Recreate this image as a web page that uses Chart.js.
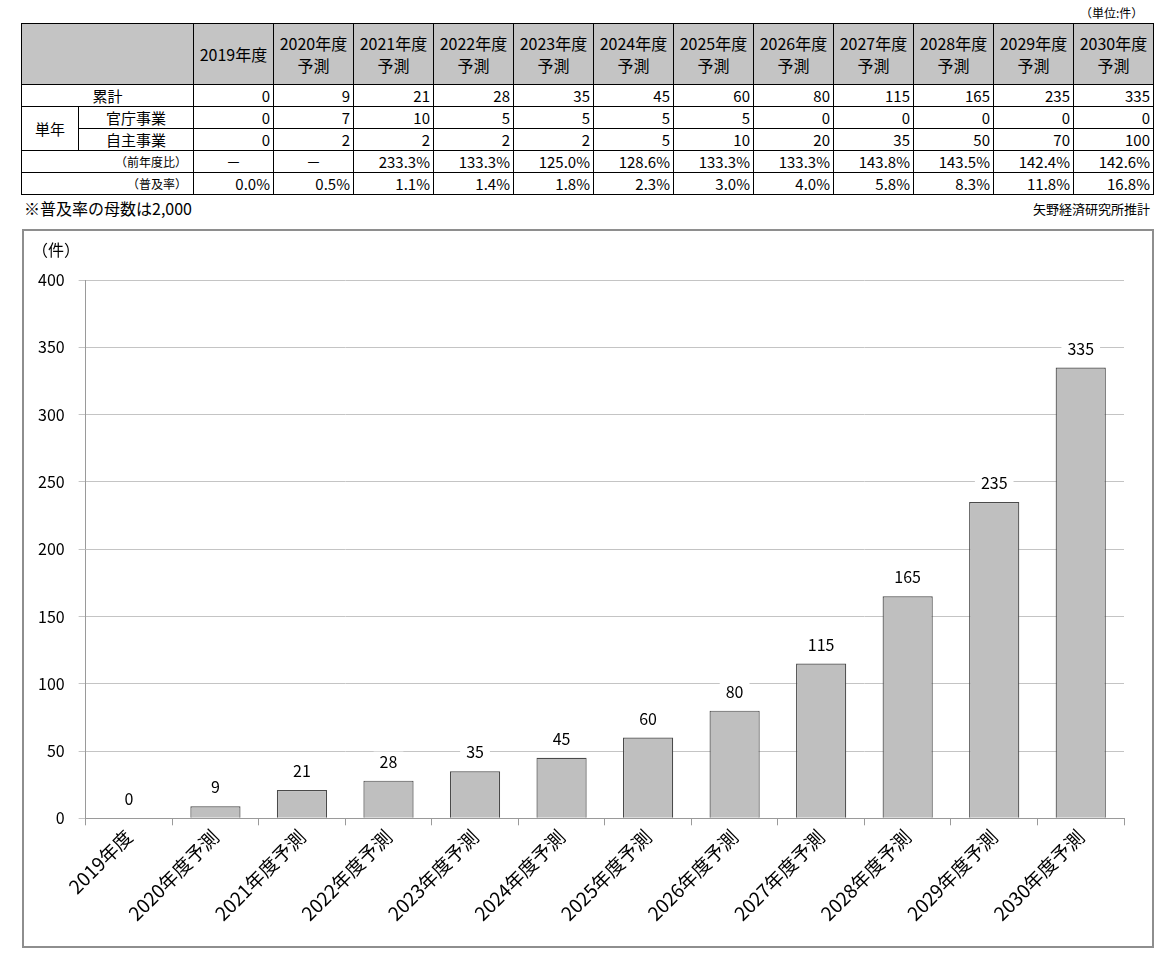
<!DOCTYPE html>
<html>
<head>
<meta charset="utf-8">
<script src="https://cdn.jsdelivr.net/npm/chart.js@4"></script>
<style>
body { margin: 0; background: #fff; font-family: "Noto Sans CJK JP", sans-serif; }
#unit { position: absolute; left: 1080px; top: 4px; font-size: 12px; }
#tbl { position: absolute; left: 21px; top: 23px; width: 1132px; table-layout: fixed; border-collapse: collapse; font-size: 15px; }
#tbl td, #tbl th { border: 1px solid #000; padding: 0 3px; height: 21px; line-height: 18px; white-space: nowrap; }
#tbl th { background: #c4c4c4; font-weight: normal; text-align: center; height: 60px; line-height: 22px; font-size: 16px; padding: 0 1px; }
#tbl td.num { text-align: right; }
#tbl td.lbl { text-align: center; }
#tbl td.sub { text-align: right; font-size: 12px; padding-right: 6px; }
#note { position: absolute; left: 24px; top: 196px; font-size: 16px; }
#src { position: absolute; right: 14px; top: 199px; font-size: 13px; }
#box { position: absolute; left: 22px; top: 229px; width: 1128px; height: 715px; border: 2px solid #8e8e8e; }
#box canvas { position: absolute; left: 0; top: 0; }
#ylab { position: absolute; left: 8px; top: 6px; font-size: 16px; }
</style>
</head>
<body>
<div id="unit">（単位:件）</div>
<table id="tbl">
  <colgroup id="cols"><col style="width:57px"><col style="width:115px"></colgroup>
  <thead><tr id="head"><th colspan="2"></th></tr></thead>
  <tbody id="body"></tbody>
</table>
<div id="note">※普及率の母数は2,000</div>
<div id="src">矢野経済研究所推計</div>
<div id="box">
  <canvas id="chart" width="1128" height="715"></canvas>
  <div id="ylab">（件）</div>
</div>
<script>
// Data
const years = ['2019年度', '2020年度予測', '2021年度予測', '2022年度予測', '2023年度予測', '2024年度予測',
    '2025年度予測', '2026年度予測', '2027年度予測', '2028年度予測', '2029年度予測', '2030年度予測'];
const cumulative = [0, 9, 21, 28, 35, 45, 60, 80, 115, 165, 235, 335];
const govProjects = [0, 7, 10, 5, 5, 5, 5, 0, 0, 0, 0, 0];
const ownProjects = [0, 2, 2, 2, 2, 5, 10, 20, 35, 50, 70, 100];
const yoyRatio = ['－', '－', '233.3%', '133.3%', '125.0%', '128.6%', '133.3%', '133.3%', '143.8%', '143.5%', '142.4%', '142.6%'];
const penetration = ['0.0%', '0.5%', '1.1%', '1.4%', '1.8%', '2.3%', '3.0%', '4.0%', '5.8%', '8.3%', '11.8%', '16.8%'];
const yTicks = [0, 50, 100, 150, 200, 250, 300, 350, 400];

// build the table
const head = document.getElementById('head');
const cols = document.getElementById('cols');
years.forEach(y => {
    const col = document.createElement('col');
    col.style.width = '80px';
    cols.appendChild(col);
    const th = document.createElement('th');
    th.innerHTML = y.replace('予測', '<br>予測');
    head.appendChild(th);
});

function addRow(cells, values, cls) {
    const tr = document.createElement('tr');
    tr.innerHTML = cells;
    values.forEach(v => {
        const td = document.createElement('td');
        td.className = cls;
        td.textContent = v;
        tr.appendChild(td);
    });
    document.getElementById('body').appendChild(tr);
}
addRow('<td colspan="2" class="lbl">累計</td>', cumulative, 'num');
addRow('<td rowspan="2" class="lbl">単年</td><td class="lbl">官庁事業</td>', govProjects, 'num');
addRow('<td class="lbl">自主事業</td>', ownProjects, 'num');
addRow('<td colspan="2" class="sub">（前年度比）</td>', yoyRatio, 'num');
addRow('<td colspan="2" class="sub">（普及率）</td>', penetration, 'num');
document.querySelectorAll('#body tr:nth-child(4) td.num').forEach((td, i) => {
    if (i < 2) td.style.textAlign = 'center';
});

// value labels above the bars
const valueLabels = {
    id: 'valueLabels',
    afterDatasetsDraw(chart) {
        const ctx = chart.ctx;
        const meta = chart.getDatasetMeta(0);
        ctx.save();
        ctx.font = '16px "Noto Sans CJK JP", sans-serif';
        ctx.textAlign = 'center';
        ctx.textBaseline = 'middle';
        meta.data.forEach((bar, i) => {
            const text = String(cumulative[i]);
            const y = bar.y - 19;
            const w = ctx.measureText(text).width + 12;
            ctx.fillStyle = '#fff';
            ctx.fillRect(bar.x - w / 2, y - 10, w, 20);
            ctx.fillStyle = '#000';
            ctx.fillText(text, bar.x, y);
        });
        ctx.restore();
    }
};

Chart.defaults.font.family = '"Noto Sans CJK JP", sans-serif';
Chart.defaults.color = '#000';

new Chart(document.getElementById('chart').getContext('2d'), {
    type: 'bar',
    data: {
        labels: years,
        datasets: [{
            data: cumulative,
            backgroundColor: '#bfbfbf',
            borderColor: '#4a4a4a',
            borderWidth: 1.2,
            barPercentage: 0.58,
            categoryPercentage: 1
        }]
    },
    options: {
        responsive: false,
        animation: false,
        devicePixelRatio: 1,
        layout: { padding: { top: 49, right: 28, left: 0, bottom: 21 } },
        plugins: { legend: { display: false }, tooltip: { enabled: false } },
        scales: {
            x: {
                grid: { offset: true, drawOnChartArea: false, color: '#9a9a9a', tickLength: 7 },
                border: { color: '#9a9a9a' },
                ticks: { font: { size: 19 }, maxRotation: 45, minRotation: 45, padding: 0 }
            },
            y: {
                min: 0, max: 400,
                afterBuildTicks: axis => { axis.ticks = yTicks.map(v => ({ value: v })); },
                grid: { color: '#c4c4c4', tickLength: 7 },
                border: { color: '#9a9a9a' },
                ticks: { font: { size: 16 }, padding: 14 }
            }
        }
    },
    plugins: [valueLabels]
});
</script>
</body>
</html>
